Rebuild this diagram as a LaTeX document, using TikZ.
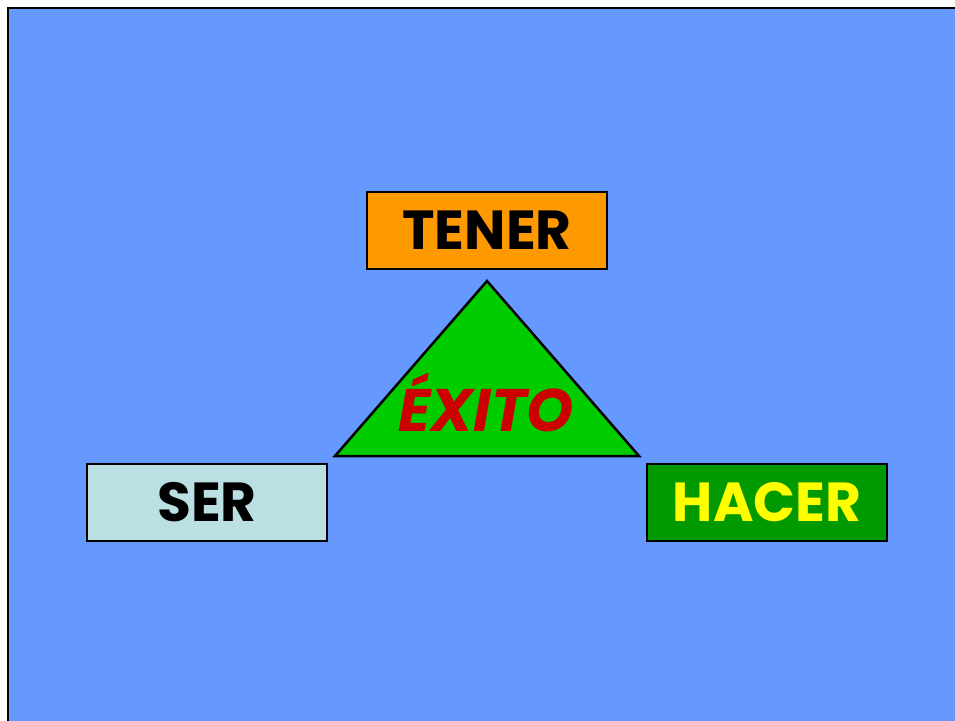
\documentclass[tikz,border=0pt]{standalone}
\usepackage{fontspec}
\setmainfont{Poppins}
\definecolor{bgblue}{HTML}{6699FF}
\definecolor{tenerorange}{HTML}{FF9900}
\definecolor{serblue}{HTML}{BBE0E3}
\definecolor{hacergreen}{HTML}{009900}
\definecolor{trigreen}{HTML}{00CC00}
\definecolor{exitored}{HTML}{CC0000}
\definecolor{hacertext}{HTML}{FFFF00}
\tikzset{
  wordbox/.style={draw=black, line width=2.5pt, rectangle, minimum width=240pt, minimum height=77pt, inner sep=0pt,
    font=\fontsize{55}{58}\selectfont\bfseries},
}
\begin{document}
\begin{tikzpicture}[x=1pt,y=-1pt]
\useasboundingbox (0,0) rectangle (955,720);
\begin{scope}
\clip (0,0) rectangle (955,720);
\fill[white] (0,0) rectangle (955,720);
\draw[fill=bgblue, line width=2.5pt] (8,8) rectangle (975,740);
\end{scope}
\node[wordbox, fill=tenerorange, text=black] (tener) at (487,230.5) {TENER};
\node[wordbox, fill=serblue, text=black] (ser) at (207,502.5) {SER};
\node[wordbox, fill=hacergreen, text=hacertext] (hacer) at (767,502.5) {HACER};
\coordinate (apex) at (487,281);
\coordinate (bl) at (335,456);
\coordinate (br) at (639,456);
\draw[fill=trigreen, line width=2.5pt, line join=miter] (apex) -- (bl) -- (br) -- cycle;
\node[text=exitored, font=\fontsize{60}{64}\selectfont\bfseries\itshape, inner sep=0pt] (exito) at (486,402) {ÉXITO};
\end{tikzpicture}
\end{document}
